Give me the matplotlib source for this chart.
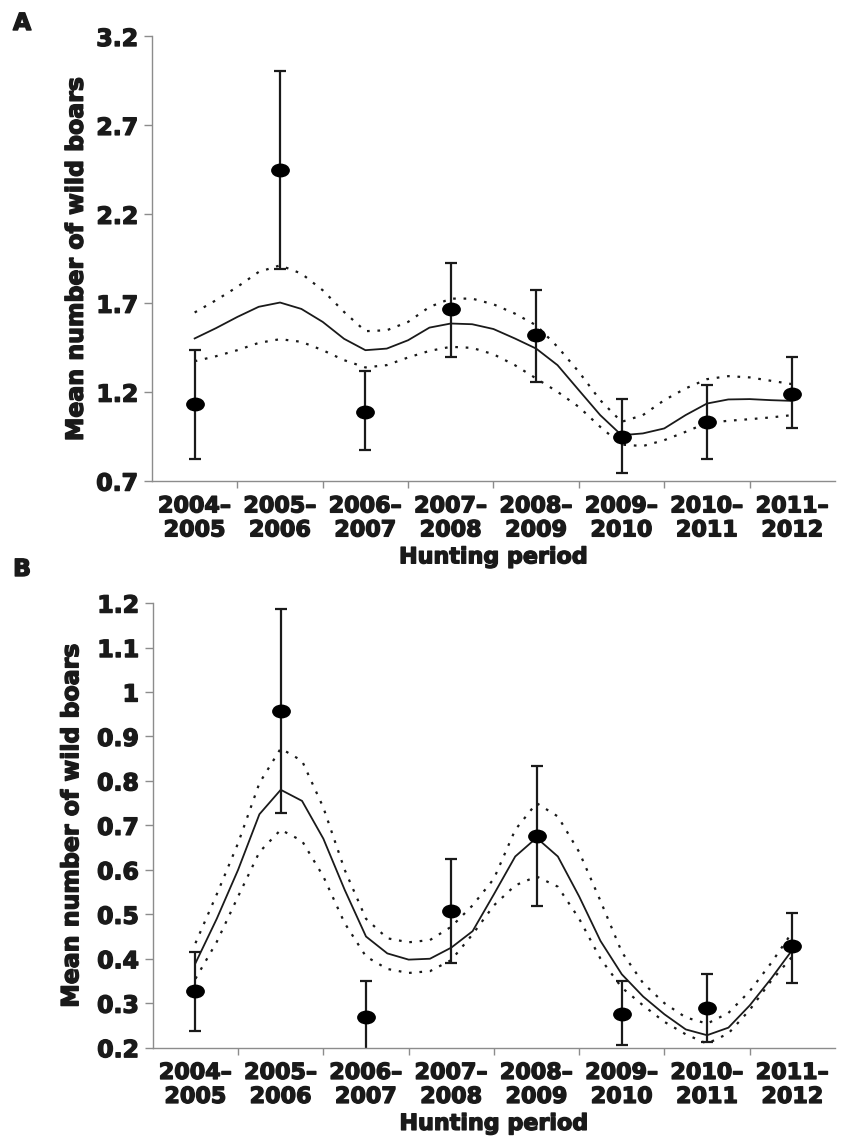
import numpy as np
import matplotlib
matplotlib.use("Agg")
import matplotlib.pyplot as plt
import matplotlib.patheffects as pe
from matplotlib.path import Path
from matplotlib.transforms import Affine2D

plt.rcParams['font.family'] = ['DejaVu Sans']
plt.rcParams['font.weight'] = 'bold'

periods = ["2004–\n2005", "2005–\n2006", "2006–\n2007", "2007–\n2008",
           "2008–\n2009", "2009–\n2010", "2010–\n2011", "2011–\n2012"]

# panel A: observed means with error bar ends
a_mean = [1.133, 2.447, 1.088, 1.666, 1.520, 0.949, 1.033, 1.191]
a_high = [1.436, 3.007, 1.318, 1.927, 1.773, 1.161, 1.243, 1.395]
a_low = [0.824, 1.891, 0.874, 1.397, 1.256, 0.745, 0.826, 0.996]

# panel A: fitted curve and 95% band, read every quarter period
a_fit = [1.502, 1.560, 1.623, 1.680, 1.704, 1.668, 1.595, 1.500, 1.436,
         1.445, 1.492, 1.563, 1.586, 1.582, 1.555, 1.502, 1.445, 1.352,
         1.211, 1.071, 0.958, 0.968, 0.996, 1.071, 1.136, 1.159, 1.161,
         1.155, 1.151]
a_fit_hi = [1.648, 1.717, 1.792, 1.876, 1.913, 1.867, 1.773, 1.651, 1.543,
            1.548, 1.595, 1.679, 1.726, 1.726, 1.694, 1.642, 1.576, 1.455,
            1.314, 1.155, 1.033, 1.071, 1.155, 1.221, 1.273, 1.290, 1.283,
            1.264, 1.245]
a_fit_lo = [1.374, 1.402, 1.436, 1.477, 1.498, 1.483, 1.436, 1.380, 1.339,
            1.352, 1.395, 1.432, 1.455, 1.449, 1.413, 1.352, 1.277, 1.202,
            1.117, 1.005, 0.905, 0.897, 0.930, 0.977, 1.027, 1.039, 1.048,
            1.058, 1.071]

# panel B
b_mean = [0.328, 0.958, 0.269, 0.508, 0.677, 0.276, 0.289, 0.428]
b_high = [0.416, 1.187, 0.349, 0.625, 0.834, 0.350, 0.365, 0.504]
b_low = [0.238, 0.728, 0.186, 0.391, 0.518, 0.205, 0.212, 0.346]

b_fit = [0.390, 0.490, 0.600, 0.725, 0.780, 0.755, 0.670, 0.555, 0.450,
         0.412, 0.398, 0.400, 0.425, 0.462, 0.545, 0.630, 0.672, 0.630,
         0.540, 0.440, 0.365, 0.315, 0.275, 0.241, 0.228, 0.245, 0.295,
         0.355, 0.420]
b_fit_hi = [0.435, 0.545, 0.660, 0.795, 0.873, 0.845, 0.740, 0.600, 0.490,
            0.446, 0.437, 0.442, 0.472, 0.520, 0.580, 0.690, 0.750, 0.720,
            0.640, 0.530, 0.415, 0.345, 0.300, 0.268, 0.254, 0.278, 0.327,
            0.390, 0.460]
b_fit_lo = [0.355, 0.438, 0.540, 0.640, 0.690, 0.665, 0.585, 0.480, 0.405,
            0.377, 0.368, 0.372, 0.397, 0.455, 0.520, 0.565, 0.585, 0.562,
            0.490, 0.400, 0.335, 0.295, 0.258, 0.230, 0.209, 0.232, 0.285,
            0.350, 0.405]

fit_x = np.arange(0, 7.01, 0.25)
ink = '#1a1a1a'
grey = '#8c8c8c'
heavy = [pe.withStroke(linewidth=1.0, foreground=ink)]

# slightly flattened dot, as in the original
dot = Path.unit_circle().transformed(Affine2D().scale(1.0, 0.72))


def draw_panel(ax, mean, high, low, fit, fit_hi, fit_lo, ylim, yticks, label_x):
    x = np.arange(len(periods))
    ax.plot(fit_x, fit, color=ink, lw=1.3)
    ax.plot(fit_x, fit_hi, color=ink, lw=1.6, ls=(0, (1.2, 3.5)))
    ax.plot(fit_x, fit_lo, color=ink, lw=1.6, ls=(0, (1.2, 3.5)))
    mean = np.array(mean)
    err = [mean - np.array(low), np.array(high) - mean]
    ax.errorbar(x, mean, yerr=err, fmt='none', ecolor=ink, elinewidth=1.6,
                capsize=4.5, capthick=1.6)
    ax.plot(x, mean, ls='none', marker=dot, markersize=12.5, color='black')

    ax.set_xlim(-0.5, len(periods) - 0.5)
    ax.set_ylim(*ylim)
    ax.set_yticks(yticks)
    ax.set_yticklabels(['%g' % t for t in yticks])
    ax.set_xticks(x)
    ax.set_xticklabels(periods, linespacing=1.25)
    ax.set_xticks(np.arange(0.5, len(periods) - 1, 1.0), minor=True)
    ax.tick_params(axis='x', which='major', length=0, pad=11, labelsize=16,
                   labelcolor=ink)
    ax.tick_params(axis='x', which='minor', length=5, width=1, color=grey,
                   direction='out')
    ax.tick_params(axis='y', length=6, width=1, color=grey, pad=4,
                   labelsize=17, labelcolor=ink)
    for s in ['top', 'right']:
        ax.spines[s].set_visible(False)
    for s in ['left', 'bottom']:
        ax.spines[s].set_color(grey)
        ax.spines[s].set_linewidth(1.0)
    ax.set_ylabel('Mean number of wild boars', fontsize=17, color=ink,
                  fontweight='bold')
    ax.yaxis.set_label_coords(label_x, 0.5)
    ax.set_xlabel('Hunting period', fontsize=16, color=ink, fontweight='bold',
                  labelpad=5)
    for t in ax.get_xticklabels() + ax.get_yticklabels():
        t.set_path_effects(heavy)
    ax.xaxis.label.set_path_effects(heavy)
    ax.yaxis.label.set_path_effects(heavy)


fig = plt.figure(figsize=(8.49, 11.40), dpi=100)
ax_a = fig.add_axes([0.179, 0.578, 0.8045, 0.390])
ax_b = fig.add_axes([0.180, 0.081, 0.8035, 0.390])

draw_panel(ax_a, a_mean, a_high, a_low, a_fit, a_fit_hi, a_fit_lo,
           (0.7, 3.2), [0.7, 1.2, 1.7, 2.2, 2.7, 3.2], -0.094)
draw_panel(ax_b, b_mean, b_high, b_low, b_fit, b_fit_hi, b_fit_lo,
           (0.2, 1.2), [0.2, 0.3, 0.4, 0.5, 0.6, 0.7, 0.8, 0.9, 1.0, 1.1, 1.2],
           -0.102)

for letter, ypix in [('A', 23), ('B', 569)]:
    fig.text(0.026, 1 - ypix / 1140, letter, fontsize=17, fontweight='bold',
             color=ink, va='center', ha='center', path_effects=heavy)

fig.savefig('out.png', dpi=100)
